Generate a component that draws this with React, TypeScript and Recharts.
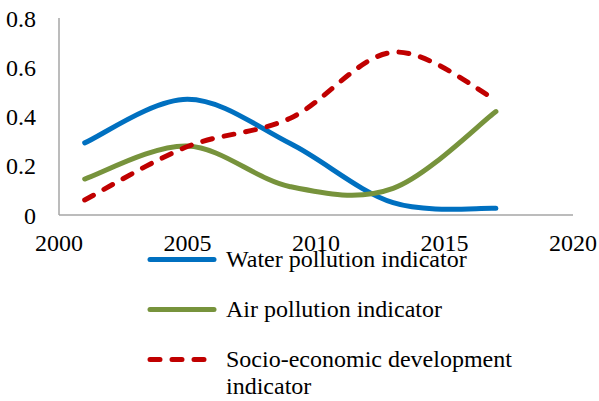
import { LineChart, Line, XAxis, YAxis, Legend } from 'recharts';

const years = [2001, 2005, 2009, 2013, 2017];
const water = [0.293, 0.47, 0.29, 0.05, 0.027];
const air = [0.146, 0.28, 0.115, 0.108, 0.42];
const socio = [0.061, 0.278, 0.393, 0.661, 0.468];

const xTicks = [2000, 2005, 2010, 2015, 2020];
const yTicks = [0, 0.2, 0.4, 0.6, 0.8];

const SERIES = [
  { key: 'water', name: 'Water pollution indicator', color: '#0070C0', dash: undefined },
  { key: 'air', name: 'Air pollution indicator', color: '#77933C', dash: undefined },
  { key: 'socio', name: 'Socio-economic development indicator', color: '#C00000', dash: '10 12' },
];

const FONT = '"Liberation Serif", "Times New Roman", serif';
const AXIS_COLOR = '#a6a6a6';

const data = years.map((year, i) => ({
  year,
  water: water[i],
  air: air[i],
  socio: socio[i],
}));

// Excel-style smoothed line: uniform Catmull-Rom through the points
function smoothCurve(context: any) {
  let pts: [number, number][] = [];
  return {
    areaStart() {},
    areaEnd() {},
    lineStart() {
      pts = [];
    },
    point(x: number, y: number) {
      pts.push([+x, +y]);
    },
    lineEnd() {
      if (!pts.length) return;
      context.moveTo(pts[0][0], pts[0][1]);
      for (let i = 0; i < pts.length - 1; i++) {
        const p0 = pts[i - 1] || pts[i];
        const p1 = pts[i];
        const p2 = pts[i + 1];
        const p3 = pts[i + 2] || pts[i + 1];
        context.bezierCurveTo(
          p1[0] + (p2[0] - p0[0]) / 6,
          p1[1] + (p2[1] - p0[1]) / 6,
          p2[0] - (p3[0] - p1[0]) / 6,
          p2[1] - (p3[1] - p1[1]) / 6,
          p2[0],
          p2[1]
        );
      }
    },
  };
}

function LegendBlock() {
  return (
    <div style={{ fontFamily: FONT, fontSize: 24, lineHeight: '27px', color: '#000' }}>
      {SERIES.map((s) => (
        <div key={s.key} style={{ display: 'flex', alignItems: 'flex-start', marginBottom: 23 }}>
          <svg width={72} height={27} style={{ flex: 'none' }}>
            <line
              x1={4}
              y1={13.5}
              x2={68}
              y2={13.5}
              stroke={s.color}
              strokeWidth={5}
              strokeLinecap="round"
              strokeDasharray={s.dash}
            />
          </svg>
          <span style={{ marginLeft: 8, width: 300 }}>{s.name}</span>
        </div>
      ))}
    </div>
  );
}

export default function App() {
  return (
    <div style={{ position: 'fixed', left: 0, top: 0, width: 599, height: 401, background: '#fff' }}>
      <LineChart
        width={599}
        height={401}
        data={data}
        margin={{ top: 18, right: 26, bottom: 156, left: 0 }}
      >
        <XAxis
          dataKey="year"
          type="number"
          domain={[2000, 2020]}
          ticks={xTicks}
          tickLine={false}
          tickSize={6}
          tickMargin={13}
          height={30}
          stroke={AXIS_COLOR}
          strokeWidth={1.5}
          tick={{ fill: '#000', fontSize: 24, fontFamily: FONT }}
        />
        <YAxis
          type="number"
          domain={[0, 0.8]}
          ticks={yTicks}
          width={59}
          tickLine={false}
          tickSize={6}
          tickMargin={17}
          stroke={AXIS_COLOR}
          strokeWidth={1.5}
          tick={{ fill: '#000', fontSize: 24, fontFamily: FONT }}
        />
        {SERIES.map((s) => (
          <Line
            key={s.key}
            dataKey={s.key}
            name={s.name}
            type={smoothCurve as any}
            stroke={s.color}
            strokeWidth={5}
            strokeLinecap="round"
            strokeDasharray={s.dash}
            dot={false}
            activeDot={false}
            isAnimationActive={false}
          />
        ))}
        <Legend
          layout="vertical"
          align="center"
          verticalAlign="middle"
          content={() => <LegendBlock />}
          wrapperStyle={{ left: 146, top: 246, width: 420 }}
        />
      </LineChart>
    </div>
  );
}
